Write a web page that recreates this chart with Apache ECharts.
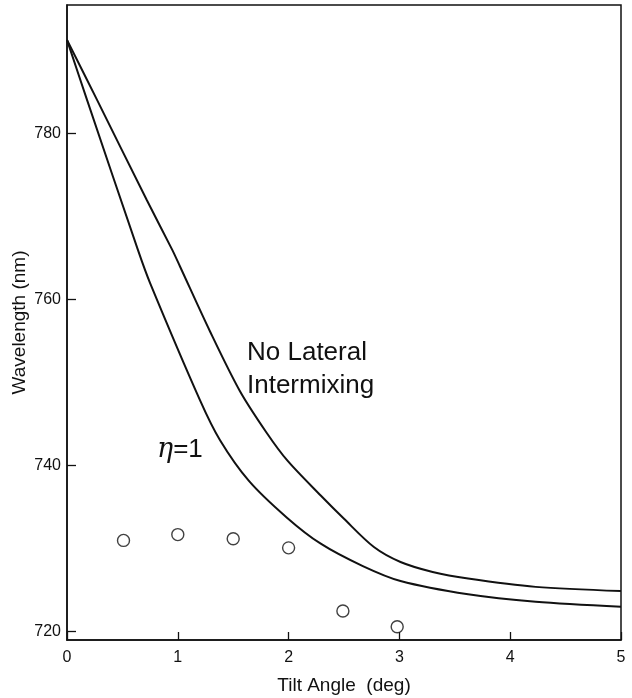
<!DOCTYPE html>
<html>
<head>
<meta charset="utf-8">
<script src="https://cdn.jsdelivr.net/npm/echarts@6/dist/echarts.min.js"></script>
<style>
  html, body { margin: 0; padding: 0; background: #fff; }
  #chart { width: 632px; height: 698px; }
</style>
</head>
<body>
<div id="chart"></div>
<script>
// curve: [tilt angle, wavelength]
var noIntermixing = [
  [0, 791.3], [0.27, 784.1], [0.72, 772.0], [0.95, 766.0], [1.02, 764.0],
  [1.29, 756.2], [1.56, 749.0], [1.8, 744.0], [1.99, 740.6], [2.29, 736.4],
  [2.5, 733.6], [2.77, 730.2], [3.01, 728.4], [3.3, 727.2], [3.62, 726.4],
  [4.23, 725.4], [5.0, 724.9]
];
var eta1 = [
  [0, 791.3], [0.18, 784.1], [0.64, 766.0], [0.75, 762.0], [1.2, 747.9],
  [1.38, 743.1], [1.64, 738.2], [1.98, 733.8], [2.29, 730.6], [2.67, 727.9],
  [3.01, 726.1], [3.62, 724.5], [4.23, 723.6], [5.0, 723.0]
];
// measured points (open circles)
var measured = [
  [0.51, 731.0], [1.0, 731.7], [1.5, 731.2], [2.0, 730.1], [2.49, 722.5], [2.98, 720.6]
];
var xTicks = [0, 1, 2, 3, 4, 5];
var yTicks = [720, 740, 760, 780];

var font = 'Liberation Sans';
var chart = echarts.init(document.getElementById('chart'));
chart.setOption({
  animation: false,
  backgroundColor: '#fff',
  grid: {
    left: 67,
    right: 11,
    top: 5,
    bottom: 58,
    outerBoundsMode: 'none',
    show: true,
    borderColor: '#111',
    borderWidth: 1.5
  },
  xAxis: {
    type: 'value',
    min: 0,
    max: 5,
    interval: 1,
    name: 'Tilt Angle  (deg)',
    nameLocation: 'middle',
    nameGap: 36,
    nameTextStyle: { fontFamily: font, fontSize: 19, color: '#111' },
    axisLine: { lineStyle: { color: '#111', width: 1.5 } },
    axisTick: { inside: true, length: 8, lineStyle: { color: '#111', width: 1.3 }, customValues: xTicks },
    axisLabel: { fontFamily: font, fontSize: 16, color: '#111', margin: 10, customValues: xTicks },
    splitLine: { show: false }
  },
  yAxis: {
    type: 'value',
    min: 719,
    max: 795.5,
    name: 'Wavelength (nm)',
    nameLocation: 'middle',
    nameGap: 38,
    nameMoveOverlap: false,
    nameTextStyle: { fontFamily: font, fontSize: 19, color: '#111' },
    axisLine: { show: true, lineStyle: { color: '#111', width: 1.5 } },
    axisTick: { show: true, inside: true, length: 9, lineStyle: { color: '#111', width: 1.3 }, customValues: yTicks },
    axisLabel: { fontFamily: font, fontSize: 16, color: '#111', margin: 6, customValues: yTicks },
    splitLine: { show: false }
  },
  series: [
    {
      name: 'No Lateral Intermixing',
      type: 'line',
      data: noIntermixing,
      smooth: 0.3,
      symbol: 'none',
      lineStyle: { color: '#111', width: 2 }
    },
    {
      name: 'eta=1',
      type: 'line',
      data: eta1,
      smooth: 0.3,
      symbol: 'none',
      lineStyle: { color: '#111', width: 2 }
    },
    {
      name: 'measured',
      type: 'scatter',
      data: measured,
      symbol: 'circle',
      symbolSize: 12,
      itemStyle: { color: '#fff', borderColor: '#111', borderWidth: 1.4 },
      z: 5
    }
  ],
  graphic: [
    {
      type: 'text',
      left: 247,
      top: 336,
      style: {
        text: 'No Lateral\nIntermixing',
        fontFamily: font,
        fontSize: 26,
        lineHeight: 33,
        fill: '#111'
      }
    },
    {
      type: 'text',
      left: 157,
      top: 436,
      style: {
        text: '{e|η}{n|=1}',
        fill: '#111',
        rich: {
          e: { fontFamily: 'DejaVu Serif', fontStyle: 'italic', fontSize: 27, fill: '#111' },
          n: { fontFamily: font, fontSize: 26, fill: '#111' }
        }
      }
    }
  ]
});
</script>
</body>
</html>
